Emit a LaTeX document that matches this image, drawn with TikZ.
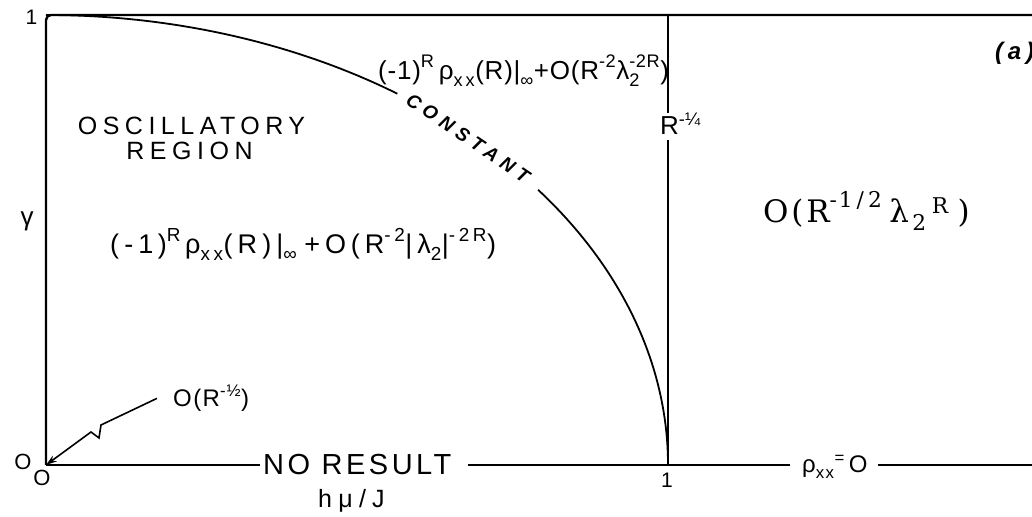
\documentclass[tikz,border=0pt]{standalone}
\usepackage{amsmath}
\usepackage{fontspec}
\setmainfont{Liberation Sans}
\newfontfamily\djs{DejaVu Serif}
\usetikzlibrary{arrows.meta,calc}
\newcommand\T[1]{\text{#1}}
\newcommand\fs[1]{\fontsize{#1}{#1}\selectfont}
\begin{document}
\begin{tikzpicture}[x=1pt,y=1pt,
  lbl/.style={inner sep=0pt},
  axis/.style={line width=2.4pt},
  curve/.style={line width=1.8pt},
  thin/.style={line width=1.6pt}]
\useasboundingbox (0,0) rectangle (1032,516);
\fill[white] (0,0) rectangle (1032,516);

% frame
\coordinate (O) at (46,51);
\coordinate (TL) at (46,501);
\coordinate (TR) at (1040,501);
\coordinate (V1) at (668,501);
\coordinate (V0) at (668,51);
\coordinate (BR) at (1040,51);
\draw[axis, rounded corners=5pt] (O) -- (TL) -- (TR);

% bottom labels
\node[lbl, anchor=base west, font={\fs{29}\addfontfeature{LetterSpace=12}}] (nores) at (263,41) {NO RESULT};
\node[lbl, anchor=base west, font={\fs{24}\addfontfeature{LetterSpace=8}}] (rhozero) at (802,43) {$\T{ρ}_{\T{xx}}{}^{\T{=}}\,\T{O}$};
\draw[axis] (O) -- ([xshift=-3pt]O -| nores.west);
\draw[axis] ([xshift=16pt]O -| nores.east) -- ([xshift=-12pt]O -| rhozero.west);
\draw[axis] ([xshift=10pt]O -| rhozero.east) -- (BR);

% vertical line with R^-1/4
\node[lbl, anchor=base west, font=\fs{26}] (rq) at (660,381) {R$^{\T{-¼}}$};
\draw[axis] (V1) -- (V1 |- rq.north);
\draw[axis] ([yshift=-5pt]V0 |- rq.base) -- (V0);

% curve
\draw[curve] (TL) arc[start angle=90, end angle=55.6, x radius=622pt, y radius=450pt];
\draw[curve] ($(O)+(37.7:622 and 450)$) arc[start angle=37.7, end angle=0, x radius=622pt, y radius=450pt];
\node[lbl, rotate=-34, font={\fs{19}\bfseries\itshape\addfontfeature{LetterSpace=30}}] (const) at (468,378) {CONSTANT};

% axis labels
\node[lbl, font=\fs{21}] (one) at (31.5,499) {1};
\node[lbl, font=\fs{26}] (gam) at (27,295) {γ};
\node[lbl, font=\fs{22}] (o1) at (23,54) {O};
\node[lbl, font=\fs{22}] (o2) at (42,38) {O};
\node[lbl, font=\fs{21}] (onex) at (667,36) {1};
\node[lbl, anchor=base west, font={\fs{25}\addfontfeature{LetterSpace=25}}] (hmu) at (318,9) {hμ/J};

% region labels
\node[lbl, anchor=base, font={\fs{25}\addfontfeature{LetterSpace=22}}] (osc) at (191.5,381) {OSCILLATORY};
\node[lbl, anchor=base, font={\fs{25}\addfontfeature{LetterSpace=22}}] (reg) at (189.5,356) {REGION};

% formulas
\node[lbl, anchor=base west, font={\fs{27}\addfontfeature{LetterSpace=19}}] (f1) at (110,262)
 {$\T{(-1\,)}^{\T{R}}\,\T{ρ}_{\T{xx}}\T{(R)|}_{\T{∞}}\;\T{+O\,(R}^{\T{-2}}\T{|λ}_{\T{2}}\T{|}^{\T{-2R}}\T{)}$};
\node[lbl, anchor=base west, font={\fs{26}\addfontfeature{LetterSpace=3}}] (f2) at (378,436)
 {$\T{(-1)}^{\T{R}}\,\T{ρ}_{\T{x\,x}}\T{(R)|}_{\T{∞}}\T{+O(R}^{\T{-2}}\T{λ}_{\T{2}}^{\T{-2R}}\T{)}$};
\node[lbl, anchor=base west, font={\fs{31}\djs\addfontfeature{LetterSpace=9}}] (f3) at (763,293)
 {$\T{O(R}^{\T{-1\hspace{4pt}/\hspace{4pt}2}}\hspace{7pt}\T{λ}_{\,\T{2}}{}^{\hspace{5pt}\T{R}}\hspace{9pt}\T{)}$};
\node[lbl, anchor=base west, font={\fs{24}\bfseries\itshape\addfontfeature{LetterSpace=20}}] (tag) at (995,456) {(a)};

% arrow label
\node[lbl, anchor=base west, font={\fs{24}\addfontfeature{LetterSpace=6}}] (orh) at (173,109) {$\T{O(R}^{\T{-½}}\T{)}$};
\draw[thin, -{Stealth[length=11pt,width=7pt]}] ([xshift=-16pt]orh.west) -- (101,91) -- (99,78) -- (91,84) -- (O);
\end{tikzpicture}
\end{document}
